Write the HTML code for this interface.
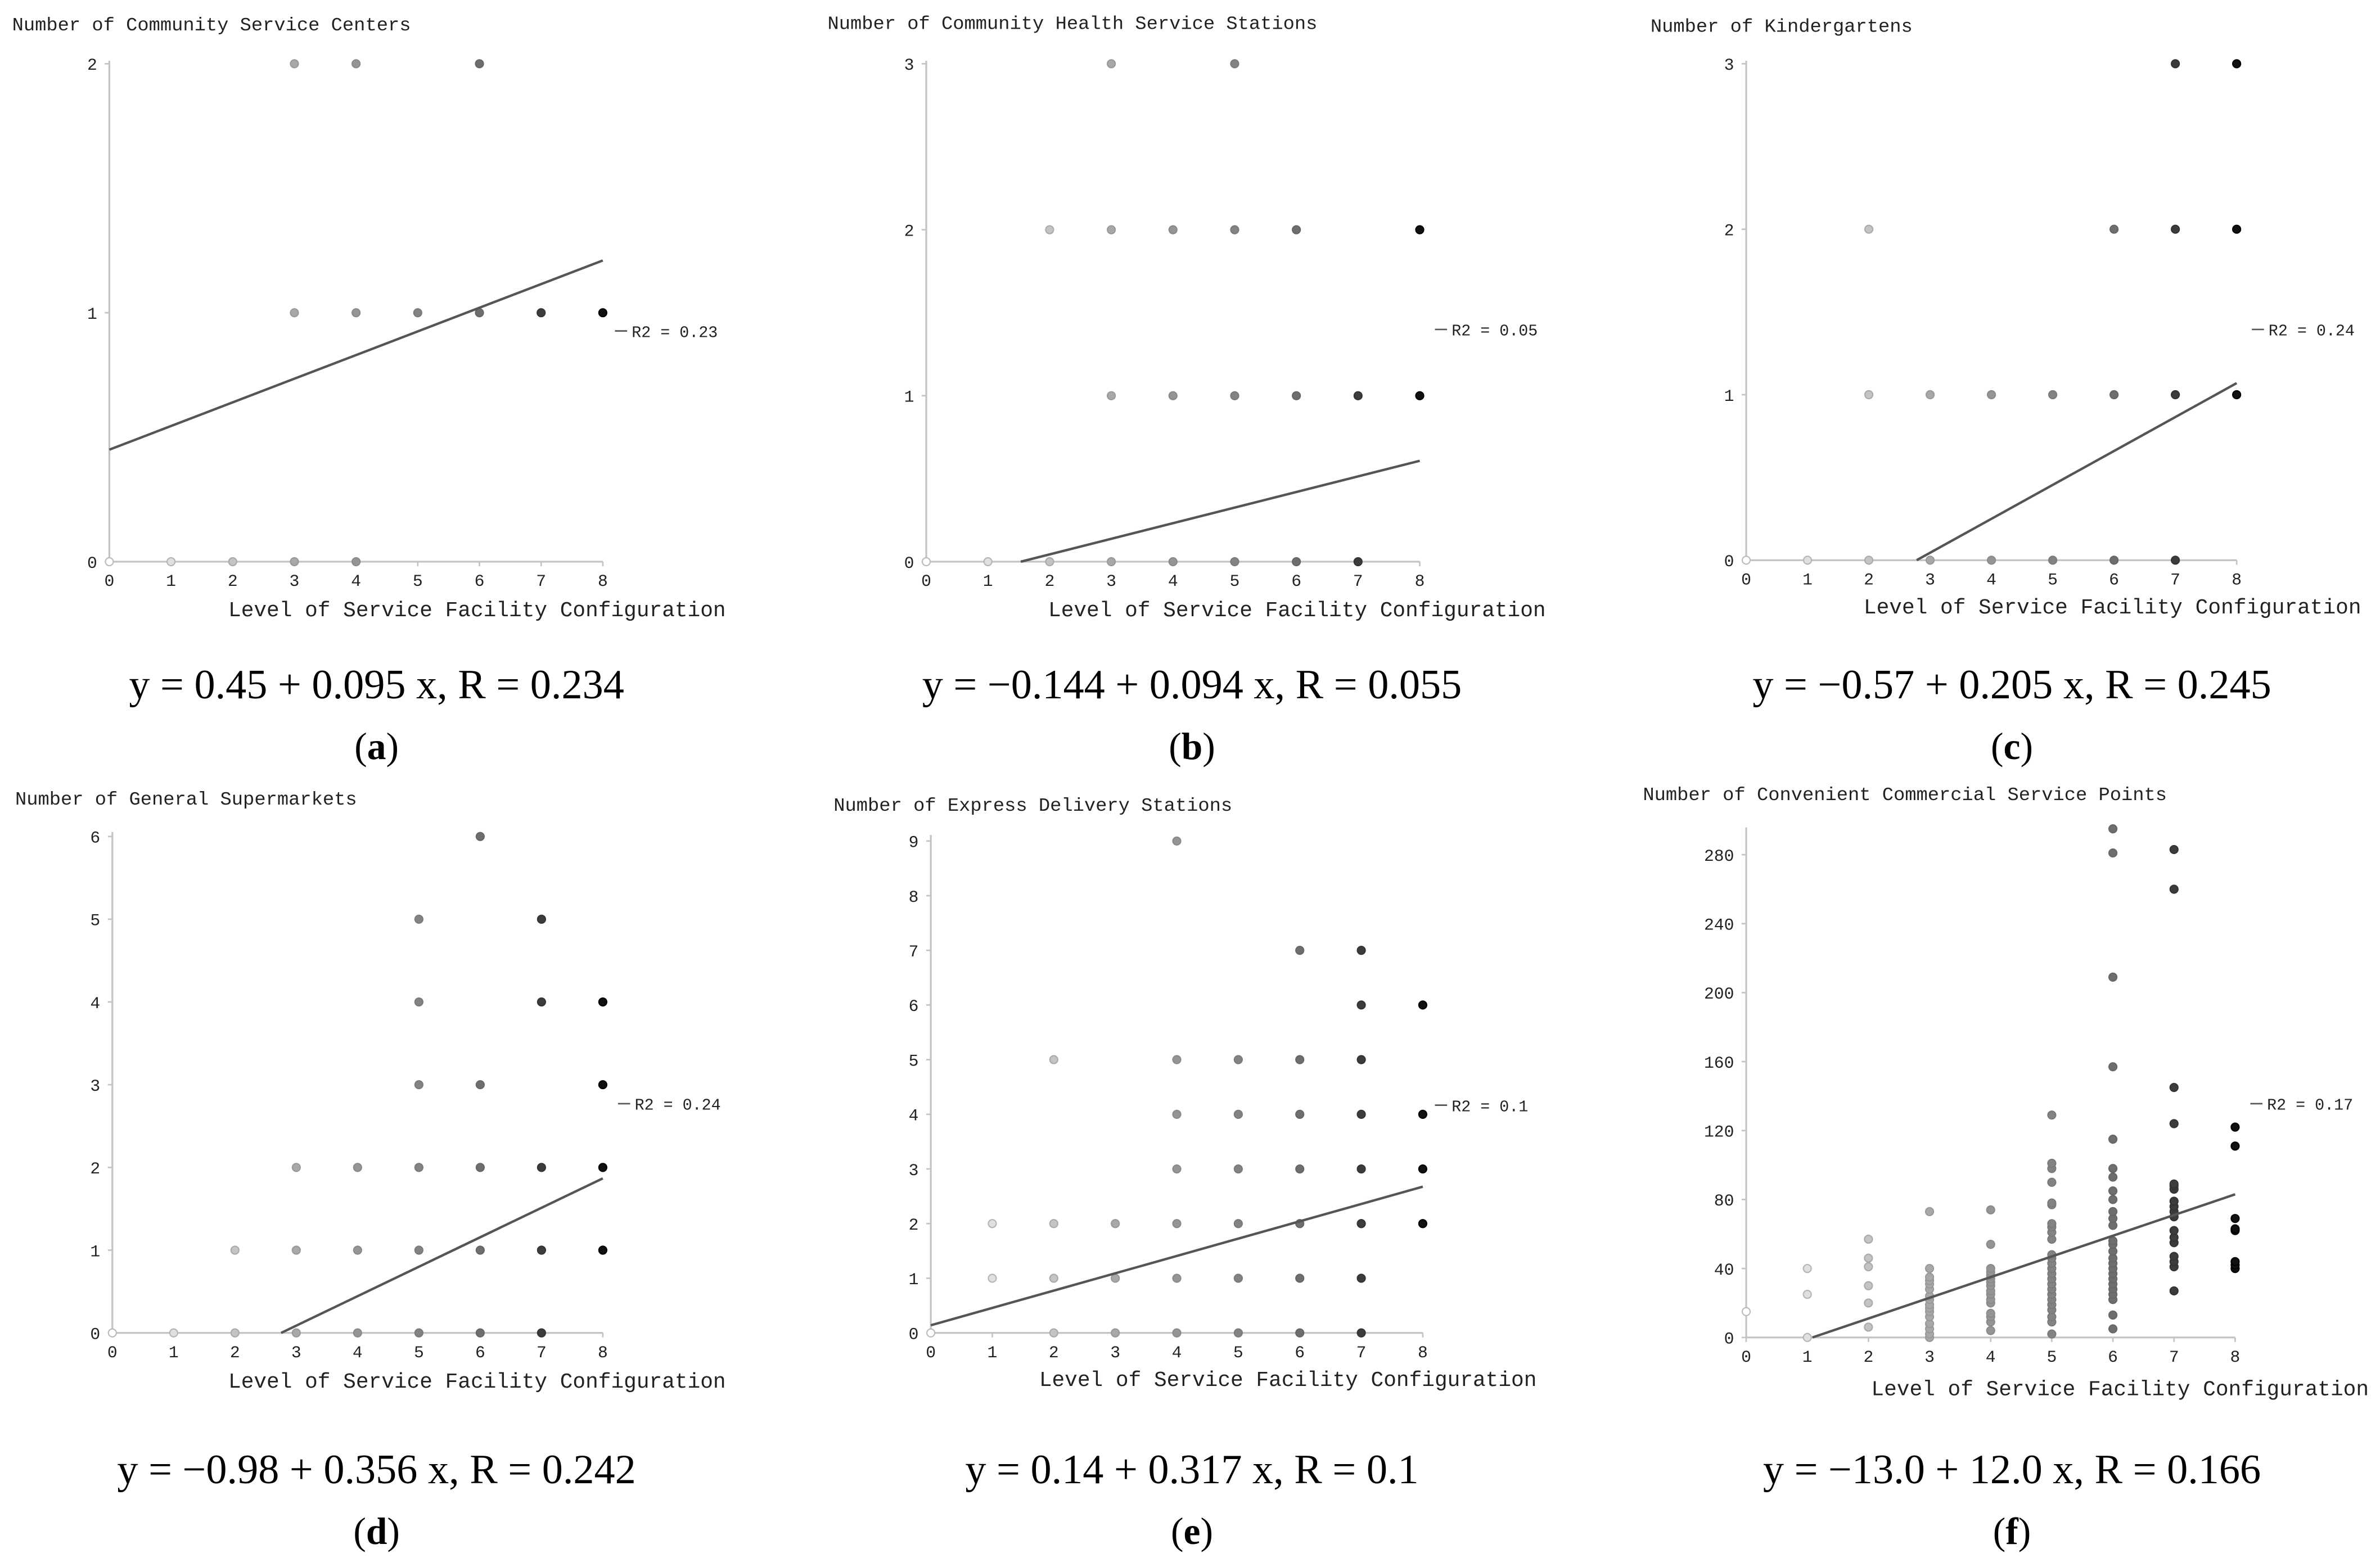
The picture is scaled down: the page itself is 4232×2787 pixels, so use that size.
<!DOCTYPE html>
<html><head><meta charset="utf-8"><style>
html,body{margin:0;padding:0;background:#fff;}
svg{display:block;}
.t{font-family:"Liberation Mono","Noto Serif CJK SC",monospace;fill:#222;}
.e{font-family:"Liberation Serif",serif;fill:#000;}
</style></head><body>
<svg id="fig" width="4232" height="2787" viewBox="0 0 1567.4 1032.2" preserveAspectRatio="none" xmlns="http://www.w3.org/2000/svg"></svg>
<script>
// ---- data ----
const xTicks = [0,1,2,3,4,5,6,7,8];
const aX = [0,1,2,3,4,3,4,5,6,7,8,3,4,6];
const aY = [0,0,0,0,0,1,1,1,1,1,1,2,2,2];
const bX = [0,1,2,3,4,5,6,7, 3,4,5,6,7,8, 2,3,4,5,6,8, 3,5];
const bY = [0,0,0,0,0,0,0,0, 1,1,1,1,1,1, 2,2,2,2,2,2, 3,3];
const cX = [0,1,2,3,4,5,6,7, 2,3,4,5,6,7,8, 2,6,7,8, 7,8];
const cY = [0,0,0,0,0,0,0,0, 1,1,1,1,1,1,1, 2,2,2,2, 3,3];
const dX = [0,1,2,3,4,5,6,7, 2,3,4,5,6,7,8, 3,4,5,6,7,8, 5,6,8, 5,7,8, 5,7, 6];
const dY = [0,0,0,0,0,0,0,0, 1,1,1,1,1,1,1, 2,2,2,2,2,2, 3,3,3, 4,4,4, 5,5, 6];
const eX = [0,2,3,4,5,6,7, 1,2,3,4,5,6,7, 1,2,3,4,5,6,7,8, 4,5,6,7,8, 4,5,6,7,8, 2,4,5,6,7, 7,8, 6,7, 4];
const eY = [0,0,0,0,0,0,0, 1,1,1,1,1,1,1, 2,2,2,2,2,2,2,2, 3,3,3,3,3, 4,4,4,4,4, 5,5,5,5,5, 6,6, 7,7, 9];
const fCols = {
 0:[15],
 1:[0,25,40],
 2:[6,20,30,41,46,57],
 3:[0,2,5,8,12,15,17,19,22,24,28,31,33,35,40,73],
 4:[4,9,12,14,20,22,25,27,30,32,34,36,38,40,54,74],
 5:[2,9,12,16,19,22,25,28,31,34,37,40,43,46,48,57,61,64,66,77,78,90,98,101,129],
 6:[5,13,22,25,28,31,34,37,40,43,46,50,54,56,65,69,73,80,85,93,98,115,157,209,281,295],
 7:[27,41,44,47,55,58,62,70,73,76,79,86,88,89,124,145,260,283],
 8:[40,42,44,62,63,69,111,122]
};
const fX = [], fY = [];
for (const k in fCols) for (const v of fCols[k]) { fX.push(+k); fY.push(v); }
const aYTicks=[0,1,2], bYTicks=[0,1,2,3], cYTicks=[0,1,2,3], dYTicks=[0,1,2,3,4,5,6];
const eYTicks=[0,1,2,3,4,5,6,7,8,9], fYTicks=[0,40,80,120,160,200,240,280];
const intercepts=[0.45,-0.144,-0.57,-0.98,0.14,-13.0];
const slopes=[0.095,0.094,0.205,0.356,0.317,12.0];

// ---- layout ----
const panels = [
 {id:'a',title:'Number of Community Service Centers',tx:8,ty:20,x0:72,x8:397,y0:370,yTop:42,yMax:2,axTop:40,X:aX,Y:aY,ticks:aYTicks,r2:'R2 = 0.23',r2x:405,r2y:222,xl:[478,406],eq:'y = 0.45 + 0.095 x, R = 0.234',cx:248,ey:460,ly:500},
 {id:'b',title:'Number of Community Health Service Stations',tx:545,ty:19,x0:610,x8:935,y0:370,yTop:42,yMax:3,axTop:40,X:bX,Y:bY,ticks:bYTicks,r2:'R2 = 0.05',r2x:945,r2y:221,xl:[1018,406],eq:'y = \u22120.144 + 0.094 x, R = 0.055',cx:785,ey:460,ly:500},
 {id:'c',title:'Number of Kindergartens',tx:1087,ty:21,x0:1150,x8:1473,y0:369,yTop:42,yMax:3,axTop:40,X:cX,Y:cY,ticks:cYTicks,r2:'R2 = 0.24',r2x:1483,r2y:221,xl:[1555,404],eq:'y = \u22120.57 + 0.205 x, R = 0.245',cx:1325,ey:460,ly:500},
 {id:'d',title:'Number of General Supermarkets',tx:10,ty:530,x0:74,x8:397,y0:878,yTop:551,yMax:6,axTop:548,X:dX,Y:dY,ticks:dYTicks,r2:'R2 = 0.24',r2x:407,r2y:731,xl:[478,914],eq:'y = \u22120.98 + 0.356 x, R = 0.242',cx:248,ey:977,ly:1017},
 {id:'e',title:'Number of Express Delivery Stations',tx:549,ty:534,x0:613,x8:937,y0:878,yTop:554,yMax:9,axTop:550,X:eX,Y:eY,ticks:eYTicks,r2:'R2 = 0.1',r2x:945,r2y:732,xl:[1012,913],eq:'y = 0.14 + 0.317 x, R = 0.1',cx:785,ey:977,ly:1017},
 {id:'f',title:'Number of Convenient Commercial Service Points',tx:1082,ty:527,x0:1150,x8:1472,y0:881,yTop:563,yMax:280,axTop:545,X:fX,Y:fY,ticks:fYTicks,r2:'R2 = 0.17',r2x:1482,r2y:731,xl:[1560,919],eq:'y =  \u221213.0 + 12.0 x, R = 0.166',cx:1325,ey:977,ly:1017}
];
const fills=['#fff','#e0e0e0','#c4c4c4','#a8a8a8','#959595','#838383','#6e6e6e','#3c3c3c','#111'];
const strokes=['#bbb','#b5b5b5','#aaa','#999','#8a8a8a','#7a7a7a','#666','#333','#000'];
const NS='http://www.w3.org/2000/svg';
const svg=document.getElementById('fig');
function mk(tag,attrs,parent,text){const e=document.createElementNS(NS,tag);for(const k in attrs)e.setAttribute(k,attrs[k]);if(text!==undefined)e.textContent=text;parent.appendChild(e);return e;}

panels.forEach((p,i)=>{
 const g=mk('g',{},svg);
 
 
 const sx=v=>p.x0+(p.x8-p.x0)*v/8;
 const sy=v=>p.y0-(p.y0-p.yTop)*v/p.yMax;
 const t=mk('text',{x:p.tx,y:p.ty,'font-size':12.5,class:'t'},g,p.title);
 
 
 const ya=mk('line',{x1:p.x0,y1:p.axTop,x2:p.x0,y2:p.y0,stroke:'#c4c4c4','stroke-width':1.2},g);
 
 
 const xa=mk('line',{x1:p.x0,y1:p.y0,x2:p.x8,y2:p.y0,stroke:'#c4c4c4','stroke-width':1.2},g);
 
 
 p.ticks.forEach(v=>{
  mk('line',{x1:p.x0-3,y1:sy(v),x2:p.x0,y2:sy(v),stroke:'#c4c4c4'},g);
  const tl=mk('text',{x:p.x0-8,y:sy(v)+4,'font-size':11,'text-anchor':'end',class:'t'},g,String(v));
  
  
 });
 xTicks.forEach(v=>{
  mk('line',{x1:sx(v),y1:p.y0,x2:sx(v),y2:p.y0+3,stroke:'#c4c4c4'},g);
  const tl=mk('text',{x:sx(v),y:p.y0+16,'font-size':11,'text-anchor':'middle',class:'t'},g,String(v));
  
  
 });
 const xl=mk('text',{x:p.xl[0],y:p.xl[1],'font-size':14,'text-anchor':'end',class:'t'},g,'Level of Service Facility Configuration');
 
 
 p.X.forEach((xv,j)=>{
  const c=mk('circle',{cx:sx(xv),cy:sy(p.Y[j]),r:2.6,fill:fills[xv],stroke:strokes[xv],'stroke-width':0.8},g);
  
  
 });
 const a=intercepts[i],b=slopes[i];
 let xs=0; if(a<0) xs=-a/b;
 const ln=mk('line',{x1:sx(xs),y1:sy(a+b*xs),x2:sx(8),y2:sy(a+b*8),stroke:'#555','stroke-width':1.6},g);
 
 
 mk('line',{x1:p.r2x,y1:p.r2y-4,x2:p.r2x+8,y2:p.r2y-4,stroke:'#555'},g);
 const r2=mk('text',{x:p.r2x+11,y:p.r2y,'font-size':10.5,class:'t'},g,p.r2);
 
 
 const eq=mk('text',{x:p.cx,y:p.ey,'font-size':27.5,'text-anchor':'middle',class:'e'},g,p.eq);
 
 
 const lab=mk('text',{x:p.cx,y:p.ly,'font-size':25,'text-anchor':'middle',class:'e'},g);
 
 
 mk('tspan',{},lab,'(');
 mk('tspan',{'font-weight':'bold'},lab,p.id);
 mk('tspan',{},lab,')');
});
</script>
</body></html>
